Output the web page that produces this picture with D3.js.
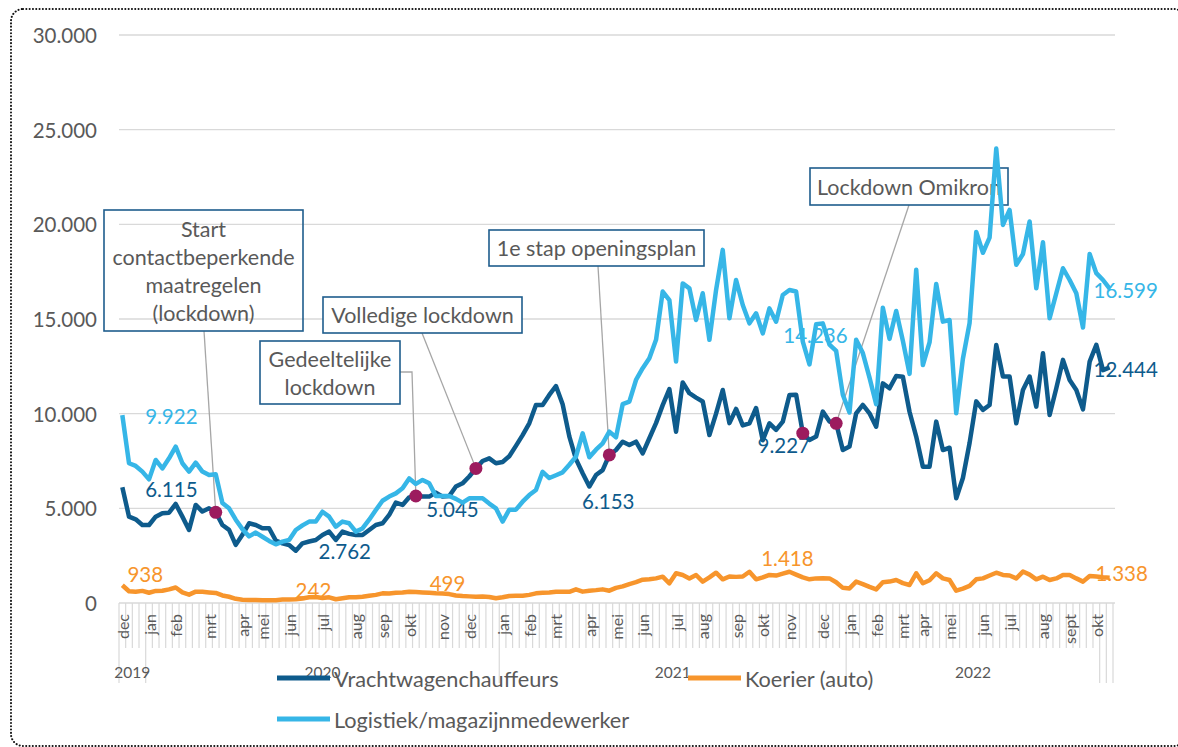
<!DOCTYPE html>
<html>
<head>
<meta charset="utf-8">
<script src="https://cdn.jsdelivr.net/npm/d3@7"></script>
<style>
body { margin: 0; background: #fff; }
svg { display: block; font-family: Lato, "Open Sans", sans-serif; }
</style>
</head>
<body>
<div id="chart"></div>
<script>
// weekly vacancies per occupation, dec 2019 - okt 2022
var vracht = [
  6115, 4560, 4420, 4120, 4120, 4560, 4740, 4770, 5230, 4560,
  3860, 5180, 4830, 5000, 4790, 4120, 3860, 3070, 3600, 4210,
  4120, 3950, 3950, 3300, 3150, 3060, 2762, 3150, 3250, 3330,
  3590, 3770, 3330, 3770, 3650, 3590, 3590, 3855, 4120, 4210,
  4650, 5300, 5180, 5580, 5650, 5630, 5620, 5830, 5620, 5650,
  6150, 6320, 6680, 7110, 7500, 7640, 7380, 7450, 7750, 8300,
  8870, 9490, 10460, 10460, 10990, 11460, 10500, 8800, 7600, 6850,
  6153, 6760, 7020, 7820, 8080, 8520, 8340, 8520, 7900, 8700,
  9500, 10450, 11300, 9050, 11650, 11080, 10850, 10640, 8870, 10000,
  11250, 9500, 10250, 9380, 9490, 10300, 8600, 9490, 9140, 9580,
  10990, 11000, 8970, 8610, 8790, 10110, 9580, 9490, 8080, 8260,
  10020, 10460, 10020, 9310, 11600, 11340, 11990, 11950, 10100, 8790,
  7200, 7200, 9580, 8080, 8200, 5530, 6600, 8450, 10650, 10200,
  10460, 13630, 11960, 11960, 9490, 11250, 11960, 10370, 13190, 9930,
  11340, 12840, 11780, 11250, 10230, 12750, 13630, 12300, 12444
];
var logistiek = [
  9922, 7380, 7240, 6940, 6530, 7555, 7110, 7640, 8260, 7380,
  6940, 7410, 6940, 6760, 6800, 5280, 5000, 4400, 3900, 3520,
  3720, 3500, 3280, 3100, 3240, 3330, 3855, 4100, 4300, 4300,
  4820, 4560, 4030, 4300, 4210, 3770, 3940, 4400, 4910, 5400,
  5620, 5790, 6060, 6580, 6290, 6500, 6320, 5650, 5650, 5650,
  5500, 5300, 5530, 5530, 5530, 5250, 5000, 4300, 4930, 4930,
  5350, 5700, 5970, 6930, 6600, 6750, 6900, 7300, 7730, 8960,
  7700, 8100, 8430, 9050, 8750, 10500, 10640, 11780, 12400, 12930,
  13900, 16450, 16000, 12750, 16880, 16620, 14950, 16360, 13900, 16530,
  18650, 15040, 17060, 15740, 14770, 15300, 14240, 15560, 14860, 16270,
  16530, 16450, 13800, 12600, 14720, 14770, 13650, 13320, 11000, 10060,
  13900, 13200, 11900, 10500, 15600, 13950, 15420, 13850, 12100, 17600,
  12570, 13760, 16850, 14860, 14950, 10020, 12900, 14780, 19600, 18500,
  19300, 24000, 19970, 20760, 17860, 18430, 20150, 16620, 19050, 15040,
  16360, 17680, 17060, 16360, 14550, 18430, 17420, 17060, 16599
];
var koerier = [
  938, 620, 600, 640, 540, 640, 650, 720, 820, 560,
  440, 600, 590, 560, 530, 400, 330, 220, 170, 160,
  160, 140, 150, 150, 180, 190, 200, 242, 300, 320,
  260, 300, 200, 250, 300, 300, 330, 380, 430, 510,
  500, 540, 560, 600, 580, 560, 540, 510, 499, 470,
  400, 370, 350, 335, 340, 320, 250, 300, 370, 380,
  380, 430, 510, 540, 560, 600, 600, 590, 720, 600,
  650, 680, 720, 650, 800, 880, 1000, 1100, 1230, 1250,
  1300, 1390, 1040, 1570, 1480, 1300, 1480, 1130, 1350, 1600,
  1250, 1400, 1380, 1400, 1650, 1250, 1350, 1480, 1450, 1550,
  1650, 1500, 1350, 1250, 1300, 1310, 1300, 1100, 800, 770,
  1130, 1000, 850, 720, 1100, 1130, 1215, 1050, 950, 1570,
  1040, 1200, 1570, 1300, 1215, 650, 760, 900, 1250, 1300,
  1450, 1600, 1480, 1450, 1300, 1660, 1500, 1250, 1390, 1215,
  1300, 1480, 1480, 1300, 1130, 1430, 1400, 1360, 1338
];

// category axis: one category per week
var monthLabels = ["dec", "jan", "feb", "mrt", "apr", "mei", "jun", "jul", "aug", "sep", "okt", "nov", "dec",
  "jan", "feb", "mrt", "apr", "mei", "jun", "jul", "aug", "sep", "okt", "nov", "dec",
  "jan", "feb", "mrt", "apr", "mei", "jun", "jul", "aug", "sept", "okt"];
var monthWeek = [0, 4, 8, 13, 18, 21, 25, 30, 35, 39, 43, 48, 52,
  57, 61, 65, 70, 74, 78, 83, 87, 92, 96, 100, 105,
  109, 113, 117, 120, 124, 129, 133, 138, 142, 146];
var yearLabels = ["2019", "2020", "2021", "2022"];
var yearBreaks = [0, 4, 57, 109, 147, 148, 149];
var yTicks = [0, 5000, 10000, 15000, 20000, 25000, 30000];

// events marked on the Vrachtwagenchauffeurs line
var eventWeek = [14, 44, 53, 73, 102, 107];
var eventText = [
  ["Start", "contactbeperkende", "maatregelen", "(lockdown)"],
  ["Gedeeltelijke", "lockdown"],
  ["Volledige lockdown"],
  ["1e stap openingsplan"],
  null,
  ["Lockdown Omikron"]
];

// value labels: [series, week, text]
var valueLabels = [
  ["vracht", 0, "6.115"], ["vracht", 26, "2.762"], ["vracht", 48, "5.045"],
  ["vracht", 70, "6.153"], ["vracht", 102, "9.227"], ["vracht", 148, "12.444"],
  ["logistiek", 0, "9.922"], ["logistiek", 106, "14.236"], ["logistiek", 148, "16.599"],
  ["koerier", 0, "938"], ["koerier", 27, "242"], ["koerier", 48, "499"],
  ["koerier", 100, "1.418"], ["koerier", 148, "1.338"]
];

var svgWidth = 1178;
var svgHeight = 747;
var nWeeks = vracht.length;

var colors = { vracht: "#0e5b8c", logistiek: "#36b6e7", koerier: "#f7952c" };
var textColor = "#595959";
var gridColor = "#d9d9d9";

var svg = d3.select("#chart").append("svg")
  .attr("width", svgWidth)
  .attr("height", svgHeight);

// dotted frame, right edge runs just off the picture
svg.append("rect")
  .attr("x", 11).attr("y", 9)
  .attr("width", 1175).attr("height", 737)
  .attr("rx", 12)
  .attr("fill", "none")
  .attr("stroke", "#111")
  .attr("stroke-width", 2)
  .attr("stroke-linecap", "round")
  .attr("stroke-dasharray", "0.1 3.2");

var x = d3.scaleBand().domain(d3.range(nWeeks)).range([119, 1113]);
var xc = function(i) { return x(i) + x.bandwidth() / 2; };
var y = d3.scaleLinear().domain([0, 30000]).range([603, 35]);

var nl = d3.formatLocale({ decimal: ",", thousands: ".", grouping: [3], currency: ["€", ""] });
var fmt = nl.format(",");

// gridlines + y labels
var yAxis = svg.append("g");
yAxis.selectAll("line").data(yTicks).enter().append("line")
  .attr("x1", 119).attr("x2", 1115)
  .attr("y1", d => y(d)).attr("y2", d => y(d))
  .attr("stroke", gridColor).attr("stroke-width", 1.3);
yAxis.selectAll("text").data(yTicks).enter().append("text")
  .attr("x", 97).attr("y", d => y(d))
  .attr("text-anchor", "end")
  .attr("dominant-baseline", "central")
  .attr("font-size", 20.5)
  .attr("fill", textColor)
  .text(d => fmt(d));

// x axis ticks
var xAxis = svg.append("g");
xAxis.selectAll("line.wk").data(d3.range(nWeeks + 1)).enter().append("line")
  .attr("class", "wk")
  .attr("x1", i => 119 + i * x.bandwidth()).attr("x2", i => 119 + i * x.bandwidth())
  .attr("y1", 603)
  .attr("y2", i => yearBreaks.indexOf(i) >= 0 ? 683 : 648)
  .attr("stroke", gridColor).attr("stroke-width", 1.2);

xAxis.selectAll("text.month").data(monthLabels).enter().append("text")
  .attr("class", "month")
  .attr("transform", (d, i) => "translate(" + xc(monthWeek[i]) + ",614) rotate(-90)")
  .attr("text-anchor", "end")
  .attr("dominant-baseline", "central")
  .attr("font-size", 16)
  .attr("fill", textColor)
  .text(d => d);

xAxis.selectAll("text.year").data(yearLabels).enter().append("text")
  .attr("class", "year")
  .attr("x", (d, i) => 119 + (yearBreaks[i] + yearBreaks[i + 1]) / 2 * x.bandwidth())
  .attr("y", 672)
  .attr("text-anchor", "middle")
  .attr("dominant-baseline", "central")
  .attr("font-size", 15.5)
  .attr("fill", textColor)
  .text(d => d);

// callout boxes (drawn under the lines, like the original)
var boxes = [
  { x: 104, y: 210, w: 199, h: 121, fill: "none", line: [[204, 331]] },
  { x: 260, y: 341, w: 140, h: 63, fill: "#fff", line: [[400, 372], [412, 372]] },
  { x: 323, y: 297, w: 199, h: 36, fill: "#fff", line: [[422, 333]] },
  { x: 489, y: 230, w: 215, h: 36, fill: "#fff", line: [[598, 266]] },
  null,
  { x: 810, y: 168, w: 198, h: 37, fill: "#fff", line: [[909, 205]] }
];

var callouts = svg.append("g");
eventWeek.forEach(function(wk, i) {
  var b = boxes[i];
  if (!b) return;
  var pts = b.line.concat([[xc(wk), y(vracht[wk])]]);
  callouts.append("path")
    .attr("d", d3.line()(pts))
    .attr("fill", "none")
    .attr("stroke", "#a6a6a6")
    .attr("stroke-width", 1.3);
  callouts.append("rect")
    .attr("x", b.x).attr("y", b.y)
    .attr("width", b.w).attr("height", b.h)
    .attr("fill", b.fill)
    .attr("stroke", "#1f5d8d")
    .attr("stroke-width", 1.6);
  var lines = eventText[i];
  var lh = 28;
  var top = b.y + b.h / 2 - (lines.length - 1) * lh / 2;
  lines.forEach(function(t, j) {
    callouts.append("text")
      .attr("x", b.x + b.w / 2)
      .attr("y", top + j * lh)
      .attr("text-anchor", "middle")
      .attr("dominant-baseline", "central")
      .attr("font-size", 21.5)
      .attr("fill", textColor)
      .text(t);
  });
});

// value labels (offsets from their data point)
var series = { vracht: vracht, logistiek: logistiek, koerier: koerier };
var labelOffset = [
  [49, 2], [49, 0], [10, 12], [19, 14], [-19, 12], [16, 2],
  [49, 1], [-14, -10], [16, 1],
  [23, -11], [11, -8], [5, -11], [-2, -14], [12, -5]
];
svg.append("g").selectAll("text").data(valueLabels).enter().append("text")
  .attr("x", (d, i) => xc(d[1]) + labelOffset[i][0])
  .attr("y", (d, i) => y(series[d[0]][d[1]]) + labelOffset[i][1])
  .attr("text-anchor", "middle")
  .attr("dominant-baseline", "central")
  .attr("font-size", 20.5)
  .attr("fill", d => colors[d[0]])
  .text(d => d[2]);

// series lines
var line = d3.line().x((d, i) => xc(i)).y(d => y(d));
["vracht", "koerier", "logistiek"].forEach(function(key) {
  svg.append("path")
    .datum(series[key])
    .attr("d", line)
    .attr("fill", "none")
    .attr("stroke", colors[key])
    .attr("stroke-width", 4.5)
    .attr("stroke-linejoin", "round");
});

// event markers
svg.append("g").selectAll("circle").data(eventWeek).enter().append("circle")
  .attr("cx", d => xc(d))
  .attr("cy", d => y(vracht[d]))
  .attr("r", 6.5)
  .attr("fill", "#9c1b5e");

// legend
var legend = [
  { key: "vracht", name: "Vrachtwagenchauffeurs", x: 277, y: 678 },
  { key: "koerier", name: "Koerier (auto)", x: 688, y: 678 },
  { key: "logistiek", name: "Logistiek/magazijnmedewerker", x: 277, y: 719 }
];
var lg = svg.append("g");
legend.forEach(function(l) {
  lg.append("line")
    .attr("x1", l.x).attr("x2", l.x + 53)
    .attr("y1", l.y).attr("y2", l.y)
    .attr("stroke", colors[l.key])
    .attr("stroke-width", 5);
  lg.append("text")
    .attr("x", l.x + 57).attr("y", l.y + 1)
    .attr("dominant-baseline", "central")
    .attr("font-size", 21.7)
    .attr("fill", textColor)
    .text(l.name);
});
</script>
</body>
</html>
